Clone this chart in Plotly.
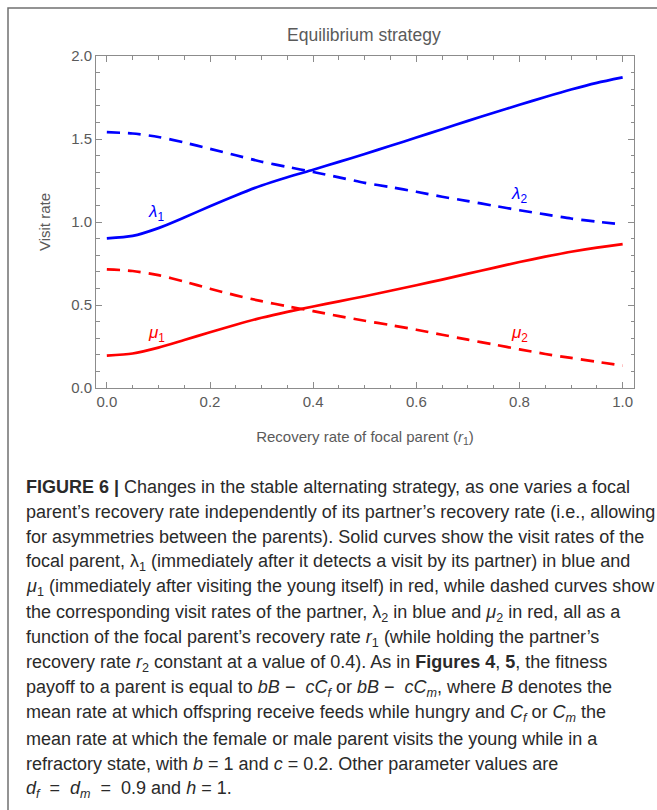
import plotly.graph_objects as go

# Recovery rate of the focal parent (r1)
r1 = [0.00, 0.05, 0.10, 0.15, 0.20, 0.25, 0.30, 0.35, 0.40, 0.45, 0.50,
      0.55, 0.60, 0.65, 0.70, 0.75, 0.80, 0.85, 0.90, 0.95, 1.00]

# Focal parent visit rates (solid)
lambda1 = [0.901, 0.916, 0.963, 1.027, 1.095, 1.160, 1.220, 1.270, 1.315, 1.362, 1.410,
           1.459, 1.509, 1.559, 1.609, 1.658, 1.706, 1.753, 1.798, 1.838, 1.871]
mu1 = [0.195, 0.208, 0.243, 0.289, 0.336, 0.381, 0.423, 0.459, 0.491, 0.522, 0.553,
       0.586, 0.619, 0.653, 0.689, 0.724, 0.759, 0.791, 0.821, 0.846, 0.867]

# Partner visit rates (dashed)
lambda2 = [1.541, 1.533, 1.512, 1.479, 1.441, 1.402, 1.363, 1.332, 1.301, 1.269, 1.236,
           1.210, 1.182, 1.152, 1.126, 1.098, 1.071, 1.046, 1.021, 1.002, 0.985]
mu2 = [0.715, 0.705, 0.680, 0.641, 0.598, 0.558, 0.523, 0.492, 0.463, 0.433, 0.405,
       0.379, 0.351, 0.321, 0.291, 0.262, 0.233, 0.205, 0.181, 0.158, 0.135]

y_ticks = [0.0, 0.5, 1.0, 1.5, 2.0]
x_ticks = [0.0, 0.2, 0.4, 0.6, 0.8, 1.0]

BLUE = "#0000FF"
RED = "#FF0000"
AXIS_GREY = "#8c8c8c"
TEXT_GREY = "#5a5a5a"
FONT = "Liberation Sans, Arial, sans-serif"
CAPTION_FONT = "Liberation Sans, Arial, sans-serif"

W, H = 657, 810
L, R, T, B = 96, 634, 56, 388  # plot frame in pixels


def px(x):
    return (x - L) / (R - L)


def py(y):
    return (B - y) / (B - T)


fig = go.Figure()
dash = "13px,8px"
spline = dict(shape="spline", smoothing=0.7)
fig.add_trace(go.Scatter(x=r1, y=lambda1, mode="lines", line=dict(color=BLUE, width=2.7, **spline)))
fig.add_trace(go.Scatter(x=r1, y=lambda2, mode="lines", line=dict(color=BLUE, width=2.7, dash=dash, **spline)))
fig.add_trace(go.Scatter(x=r1, y=mu1, mode="lines", line=dict(color=RED, width=2.7, **spline)))
fig.add_trace(go.Scatter(x=r1, y=mu2, mode="lines", line=dict(color=RED, width=2.7, dash=dash, **spline)))

# Curve labels
curve_labels = [
    (0.096, 1.055, "<i>λ</i><sub>1</sub>", BLUE),
    (0.80, 1.165, "<i>λ</i><sub>2</sub>", BLUE),
    (0.096, 0.325, "<i>μ</i><sub>1</sub>", RED),
    (0.80, 0.325, "<i>μ</i><sub>2</sub>", RED),
]
annotations = []
for x, y, t, c in curve_labels:
    annotations.append(dict(x=x, y=y, xref="x", yref="y", text=t, showarrow=False,
                            font=dict(family=FONT, size=17, color=c)))

# Caption below the chart
caption = [
    "<b>FIGURE 6 |</b> Changes in the stable alternating strategy, as one varies a focal",
    "parent’s recovery rate independently of its partner’s recovery rate (i.e., allowing",
    "for asymmetries between the parents). Solid curves show the visit rates of the",
    "focal parent, λ<sub>1</sub> (immediately after it detects a visit by its partner) in blue and",
    "<i>μ</i><sub>1</sub> (immediately after visiting the young itself) in red, while dashed curves show",
    "the corresponding visit rates of the partner, λ<sub>2</sub> in blue and <i>μ</i><sub>2</sub> in red, all as a",
    "function of the focal parent’s recovery rate <i>r</i><sub>1</sub> (while holding the partner’s",
    "recovery rate <i>r</i><sub>2</sub> constant at a value of 0.4). As in <b>Figures 4</b>, <b>5</b>, the fitness",
    "payoff to a parent is equal to <i>bB</i> −  <i>cC<sub>f</sub></i> or <i>bB</i> −  <i>cC<sub>m</sub></i>, where <i>B</i> denotes the",
    "mean rate at which offspring receive feeds while hungry and <i>C<sub>f</sub></i> or <i>C<sub>m</sub></i> the",
    "mean rate at which the female or male parent visits the young while in a",
    "refractory state, with <i>b</i> = 1 and <i>c</i> = 0.2. Other parameter values are",
    "<i>d<sub>f</sub></i>  =  <i>d<sub>m</sub></i>  =  0.9 and <i>h</i> = 1.",
]
for i, line in enumerate(caption):
    annotations.append(dict(x=px(24), y=py(487 + 25.2 * i), xref="paper", yref="paper",
                            xanchor="left", yanchor="middle", text=line, showarrow=False,
                            font=dict(family=CAPTION_FONT, size=18, color="#2a2a2a")))

# Chart title
annotations.append(dict(x=px(364), y=py(35), xref="paper", yref="paper", text="Equilibrium strategy",
                        showarrow=False, xanchor="center", yanchor="middle",
                        font=dict(family=FONT, size=17.5, color=TEXT_GREY)))

# Outer figure box (left and top edges visible)
shapes = [dict(type="rect", xref="paper", yref="paper", x0=px(8), x1=px(700), y0=py(860), y1=py(8),
               line=dict(color="#707070", width=1.5), fillcolor="rgba(0,0,0,0)", layer="below")]

fig.update_layout(
    width=W, height=H,
    margin=dict(l=L, r=W - R, t=T, b=H - B),
    paper_bgcolor="white", plot_bgcolor="white",
    showlegend=False,
    annotations=annotations,
    shapes=shapes,
    font=dict(family=FONT, color=TEXT_GREY),
)
fig.update_xaxes(
    range=[-0.021, 1.022], tickvals=x_ticks, tickformat=".1f",
    showgrid=False, zeroline=False,
    showline=True, linecolor=AXIS_GREY, linewidth=1, mirror="ticks",
    ticks="inside", ticklen=6, tickcolor=AXIS_GREY, tickwidth=1,
    minor=dict(ticks="inside", dtick=0.05, ticklen=3.5, tickcolor=AXIS_GREY, showgrid=False),
    tickfont=dict(family=FONT, size=15, color=TEXT_GREY),
    title=dict(text="Recovery rate of focal parent (<i>r</i><sub>1</sub>)", standoff=22,
               font=dict(family=FONT, size=15, color=TEXT_GREY)),
)
fig.update_yaxes(
    range=[0, 2], tickvals=y_ticks, tickformat=".1f",
    showgrid=False, zeroline=False,
    showline=True, linecolor=AXIS_GREY, linewidth=1, mirror="ticks",
    ticks="inside", ticklen=6, tickcolor=AXIS_GREY, tickwidth=1,
    minor=dict(ticks="inside", dtick=0.1, ticklen=3.5, tickcolor=AXIS_GREY, showgrid=False),
    tickfont=dict(family=FONT, size=15, color=TEXT_GREY),
    title=dict(text="Visit rate", standoff=16, font=dict(family=FONT, size=15, color=TEXT_GREY)),
)

fig.write_html("out.html")
